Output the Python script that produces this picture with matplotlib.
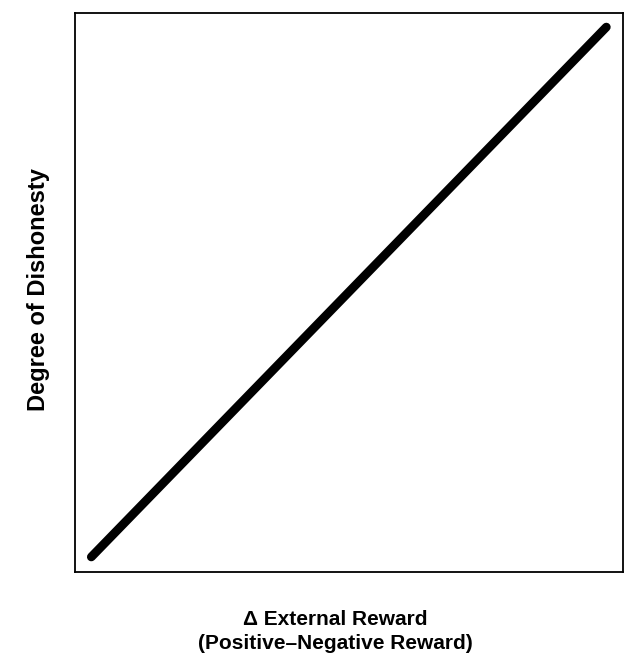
import matplotlib.pyplot as plt

# conceptual relation: dishonesty rises with external reward
reward = [0.03, 0.97]
dishonesty = [0.027, 0.975]

plt.rcParams['font.family'] = ['Liberation Sans', 'DejaVu Sans']

fig = plt.figure(figsize=(6.24, 6.56), dpi=100)
ax = fig.add_axes([0.12, 0.128, 0.878, 0.852])

ax.plot(reward, dishonesty, color='black', linewidth=6.3, solid_capstyle='round')
ax.set_xlim(0, 1)
ax.set_ylim(0, 1)
ax.set_xticks([])
ax.set_yticks([])
for s in ax.spines.values():
    s.set_linewidth(1.3)

ax.set_xlabel('\u0394 External Reward\n(Positive\u2013Negative Reward)',
              fontsize=15, fontweight='bold', linespacing=1.3)
ax.xaxis.set_label_coords(0.476, -0.068)
ax.set_ylabel('Degree of Dishonesty', fontsize=17, fontweight='bold')
ax.yaxis.set_label_coords(-0.045, 0.505)

fig.savefig('out.png', dpi=100)
